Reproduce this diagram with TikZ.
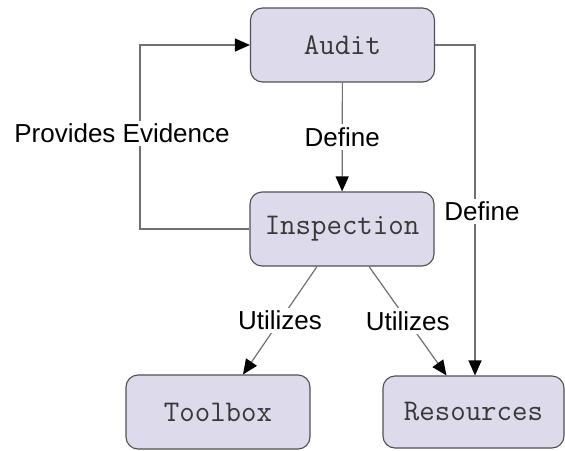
\documentclass[tikz,border=0pt]{standalone}
\usepackage{fontspec}
\setmainfont{Liberation Sans}
\usetikzlibrary{arrows.meta}
\definecolor{boxfill}{HTML}{DCDAEB}
\definecolor{boxline}{HTML}{505050}
\definecolor{linegray}{HTML}{707070}
\definecolor{textgray}{HTML}{383838}
\begin{document}
\begin{tikzpicture}[x=1pt,y=-1pt,
  box/.style={draw=boxline, fill=boxfill, rounded corners=12pt, line width=1.1pt,
    minimum width=184pt, minimum height=74pt, inner sep=0pt,
    font=\ttfamily\fontsize{30}{34}\selectfont, text=textgray},
  conn/.style={draw=linegray, line width=1.2pt, -{Triangle[length=15pt,width=13pt,color=black]}},
  lbl/.style={fill=white, inner sep=3pt, text=black, font=\fontsize{26}{30}\selectfont}]
\useasboundingbox (0,0) rectangle (565,450);
\node[box] (audit) at (342.5,45) {Audit};
\node[box] (insp) at (342,229) {Inspection};
\node[box] (tool) at (218,412) {Toolbox};
\node[box, minimum width=181pt, minimum height=72pt] (res) at (473.5,412) {Resources};
\coordinate (lft) at (140,0);
\draw[conn] (insp.west) -- (insp.west -| lft) -- node[lbl, pos=0.52, xshift=-18pt] {Provides Evidence} (audit.west -| lft) -- (audit.west);
\draw[conn] (audit) -- node[lbl, pos=0.5] {Define} (insp);
\draw[conn] (audit.east) -| node[lbl, pos=0.752, xshift=7pt] {Define} ([xshift=1.5pt]res.north);
\draw[conn] ([xshift=-25pt]insp.south) -- node[lbl] {Utilizes} ([xshift=25pt]tool.north);
\draw[conn] ([xshift=27pt]insp.south) -- node[lbl] {Utilizes} ([xshift=-27pt]res.north);
\end{tikzpicture}
\end{document}
